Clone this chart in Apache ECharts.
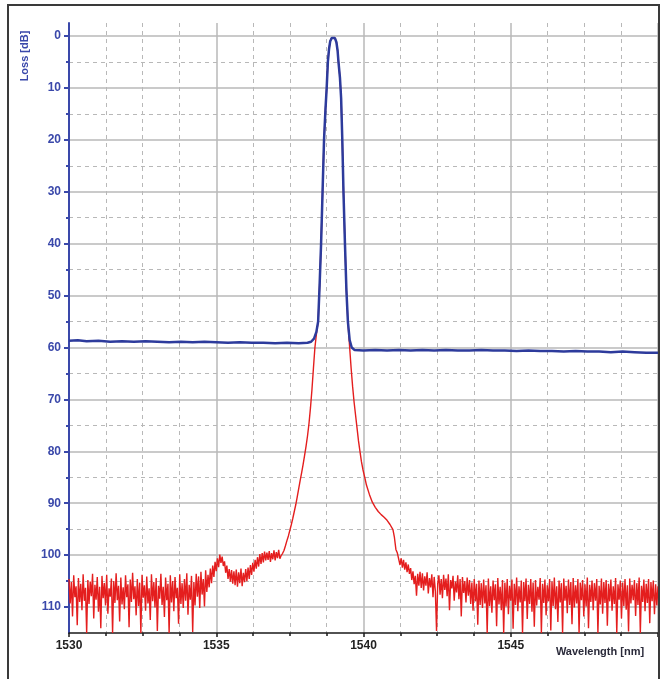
<!DOCTYPE html>
<html>
<head>
<meta charset="utf-8">
<script src="https://cdn.jsdelivr.net/npm/echarts@6/dist/echarts.min.js"></script>
<style>html,body{margin:0;padding:0;background:#fff}#c{width:665px;height:679px}</style>
</head>
<body>
<div id="c"></div>
<script>
// ---- axis definitions ----
const xMin = 1530, xMax = 1550, xStep = 5;
const xTickLabels = [1530, 1535, 1540, 1545];
const yTickLabels = [0, 10, 20, 30, 40, 50, 60, 70, 80, 90, 100, 110];
const yTop = -2.5, yBottom = 115;
const xName = 'Wavelength [nm]';
const yName = 'Loss [dB]';

// ---- red trace: noisy floor, left part (sampled every 0.04 nm from 1530.00) ----
const redLeftStart = 1530.0, redRightStart = 1541.2, redSampleStep = 0.04;
const redLeftNoise = [
104.6,109.3,105.2,111.8,103.9,108.1,106.0,113.5,104.4,109.0,
105.5,110.6,103.7,108.8,106.3,115.0,104.8,109.4,105.1,107.9,
103.6,112.2,105.7,108.6,104.2,110.9,106.1,114.1,104.0,108.3,
105.4,109.7,103.8,111.3,106.4,108.0,104.5,115.0,105.0,109.2,
103.5,108.7,105.9,112.8,104.3,109.5,106.2,110.4,103.9,108.1,
105.6,113.9,104.7,109.0,103.4,108.5,106.0,111.6,104.6,109.8,
105.3,115.0,103.8,108.2,105.8,110.7,104.1,109.3,106.4,112.5,
103.7,108.9,105.2,110.1,104.4,114.6,105.9,108.4,103.6,109.6,
106.1,111.9,104.3,108.7,105.5,115.0,103.9,109.1,105.0,110.8,
104.2,108.3,106.3,113.2,103.7,109.4,105.4,110.2,104.6,108.8,
103.5,111.5,105.7,108.6,104.0,114.8,105.2,109.7,103.6,108.0,
104.1,110.2,103.2,107.6,104.6,109.9,102.9,107.1,103.8,106.2,
102.6,105.4,102.0,104.2,101.3,103.1,100.6,102.3,99.9,101.5,
100.3,102.1,101.2,103.4,102.0,104.6,102.7,105.1,102.9,105.5,
103.1,105.8,102.8,106.1,103.3,105.4,102.6,106.0,103.4,105.2,
102.7,105.0,102.4,104.6,101.9,103.8,101.5,103.2,100.9,102.6,
100.4,102.2,99.8,101.7,99.6,101.4,99.3,101.0,99.5,100.9,
99.2,101.3,99.6,100.8,99.1,101.0,99.4,100.6,99.0,100.7
];

// ---- red trace: flanks of the filter peak [wavelength, loss] ----
const redLeftFlank = [
[1537.2,100.1],[1537.25,99.7],[1537.3,99.1],[1537.35,98.2],[1537.4,97.2],[1537.45,96.3],
[1537.5,95.2],[1537.55,94.1],[1537.6,92.9],[1537.65,91.6],[1537.7,90.3],[1537.75,88.8],
[1537.8,87.2],[1537.85,85.6],[1537.9,84.1],[1537.95,82.5],[1538.0,80.8],[1538.05,79.0],
[1538.1,77.0],[1538.15,74.6],[1538.2,71.6],[1538.25,68.1],[1538.3,64.0],[1538.35,60.0],[1538.41,57.0]
];
// shared core of the peak (both traces)
const peakCore = [
[1538.46,55],[1538.51,48],[1538.56,40],[1538.61,30],[1538.66,20],[1538.71,14],[1538.75,10],
[1538.79,5],[1538.83,2.5],[1538.87,1.0],[1538.92,0.4],[1538.98,0.2],[1539.03,0.4],[1539.08,1.2],
[1539.12,2.8],[1539.15,5],[1539.2,8],[1539.24,12],[1539.28,20],[1539.32,30],[1539.37,40],
[1539.42,49],[1539.47,55]
];
const redRightFlank = [
[1539.53,60],[1539.58,64],[1539.63,67.5],[1539.68,70.5],[1539.73,73],[1539.78,75.5],[1539.83,78],
[1539.88,80],[1539.93,82],[1539.98,83.5],[1540.05,85.2],[1540.1,86.5],[1540.2,88.3],[1540.3,89.8],
[1540.4,90.8],[1540.5,91.6],[1540.6,92.2],[1540.7,92.7],[1540.8,93.3],[1540.9,94.1],[1541.0,95.1],
[1541.05,96.6],[1541.1,98.9],[1541.15,99.6]
];

// ---- red trace: noisy floor, right part (every 0.04 nm from 1541.20) ----
const redRightNoise = [
99.8,101.9,100.6,102.4,100.9,102.8,101.4,103.3,101.8,103.6,
102.5,104.8,103.1,105.6,104.0,107.8,103.6,105.9,103.2,106.3,
103.5,106.8,104.1,105.9,103.3,107.4,104.4,106.2,103.7,108.1,
104.2,106.9,114.6,105.5,103.9,107.6,104.6,108.3,103.8,106.7,
104.5,107.9,103.7,110.6,104.8,106.4,104.0,108.8,105.1,107.2,
103.9,108.5,104.6,111.8,104.2,107.3,105.0,109.1,104.3,107.8,
104.8,109.4,105.3,110.7,104.6,108.9,105.5,113.4,104.9,109.6,
105.4,110.2,104.7,109.3,105.8,115.0,104.5,109.8,106.0,111.1,
104.9,108.7,105.6,113.7,104.4,109.5,106.1,110.6,104.8,115.0,
105.3,109.9,104.6,111.4,105.9,108.8,104.7,114.2,105.5,109.6,
104.3,110.8,106.0,109.1,104.9,115.0,105.2,108.9,104.5,112.3,
105.7,109.4,104.6,110.9,105.3,113.8,104.8,109.7,106.1,108.6,
104.4,115.0,105.5,109.2,104.7,111.6,105.8,108.9,104.6,114.5,
105.1,109.8,104.3,110.4,106.0,112.9,104.9,109.1,105.4,115.0,
104.5,108.8,105.9,111.2,104.7,109.6,105.2,113.3,104.4,110.1,
105.8,109.3,104.6,115.0,105.3,108.7,104.8,111.8,105.6,109.9,
104.3,114.1,105.7,109.0,104.9,110.6,105.4,108.8,104.6,115.0,
105.9,109.5,104.5,111.3,105.2,109.2,104.8,113.6,105.5,108.9,
104.7,110.7,106.0,109.4,104.4,115.0,105.6,108.6,104.9,112.2,
105.3,109.8,104.6,110.5,105.8,114.7,104.5,109.3,105.7,108.7,
104.8,111.7,105.4,109.6,104.3,115.0,105.9,109.0,104.7,110.8,
105.5,109.2,104.6,113.1,105.2,108.9,104.9,111.4,105.6,109.7,
106.0
];

// ---- blue trace plateaus [wavelength, loss] ----
const blueLeft = [
[1530.0,58.7],[1530.3,58.6],[1530.6,58.8],[1531.0,58.7],[1531.4,58.9],[1531.8,58.8],[1532.2,58.9],
[1532.6,58.8],[1533.0,58.9],[1533.4,59.0],[1533.8,58.9],[1534.2,59.0],[1534.6,58.9],[1535.0,59.0],
[1535.4,59.1],[1535.8,59.0],[1536.2,59.1],[1536.6,59.1],[1537.0,59.2],[1537.4,59.1],[1537.8,59.2],
[1538.1,59.1],[1538.22,58.9],[1538.32,58.3],[1538.4,57.0]
];
const blueRight = [
[1539.53,58.6],[1539.6,60.0],[1539.7,60.5],[1540.0,60.6],[1540.4,60.5],[1540.8,60.6],[1541.2,60.5],
[1541.6,60.6],[1542.0,60.5],[1542.4,60.6],[1542.8,60.5],[1543.2,60.6],[1543.6,60.6],[1544.0,60.5],
[1544.4,60.6],[1544.8,60.6],[1545.2,60.7],[1545.6,60.6],[1546.0,60.7],[1546.4,60.7],[1546.8,60.8],
[1547.2,60.7],[1547.6,60.8],[1548.0,60.8],[1548.4,60.9],[1548.8,60.8],[1549.2,60.9],[1549.6,61.0],
[1550.0,61.0]
];

// ---- build series data ----
const redData = []
  .concat(redLeftNoise.map((v, i) => [+(redLeftStart + i * redSampleStep).toFixed(2), v]))
  .concat(redLeftFlank, peakCore, redRightFlank)
  .concat(redRightNoise.map((v, i) => [+(redRightStart + i * redSampleStep).toFixed(2), v]));
const blueData = [].concat(blueLeft, peakCore, blueRight);

// ---- layout ----
const W = 665, H = 679;
const gLeft = 69, gRight = 7, gTop = 23, gBottom = 46;
const gH = H - gTop - gBottom;
const pxPerDb = gH / (yBottom - yTop);
const top1 = gTop + (0 - yTop) * pxPerDb;
const bottom1 = H - (top1 + 110 * pxPerDb);

const blueAxis = '#3a48aa';
const gridGray = '#b8b8b8';

const chart = echarts.init(document.getElementById('c'), null, {renderer: 'canvas'});
chart.setOption({
  animation: false,
  backgroundColor: '#fff',
  grid: [
    {left: gLeft, right: gRight, top: gTop, bottom: gBottom},
    {left: gLeft, right: gRight, top: top1, bottom: bottom1}
  ],
  xAxis: [
    {
      type: 'value', gridIndex: 0, min: xMin, max: xMax, interval: xStep,
      axisLine: {onZero: false, lineStyle: {color: '#1a1a1a', width: 1.5}},
      axisTick: {show: true, length: 4, lineStyle: {color: '#1a1a1a', width: 1.5}},
      minorTick: {show: true, splitNumber: 4, length: 3, lineStyle: {color: '#1a1a1a', width: 1.5}},
      axisLabel: {
        margin: 7, color: '#222', fontSize: 12, fontWeight: 'bold', fontFamily: 'Liberation Sans, Arial, sans-serif',
        formatter: v => xTickLabels.indexOf(v) >= 0 ? String(v) : ''
      },
      splitLine: {show: true, lineStyle: {color: gridGray, width: 1.5, type: 'solid'}},
      minorSplitLine: {show: true, lineStyle: {color: gridGray, width: 1, type: [4, 4]}}
    },
    {type: 'value', gridIndex: 1, min: xMin, max: xMax, show: false}
  ],
  yAxis: [
    {
      type: 'value', gridIndex: 0, min: yTop, max: yBottom, inverse: true,
      axisLine: {show: true, onZero: false, lineStyle: {color: blueAxis, width: 2}},
      axisTick: {show: false}, axisLabel: {show: false}, splitLine: {show: false}
    },
    {
      type: 'value', gridIndex: 1, min: 0, max: 110, interval: 10, inverse: true,
      axisLine: {show: false},
      axisTick: {show: true, length: 5, lineStyle: {color: blueAxis, width: 2}},
      minorTick: {show: true, splitNumber: 2, length: 3, lineStyle: {color: blueAxis, width: 2}},
      axisLabel: {
        margin: 8, color: blueAxis, fontSize: 12, fontWeight: 'bold', fontFamily: 'Liberation Sans, Arial, sans-serif',
        formatter: v => yTickLabels.indexOf(v) >= 0 ? String(v) : ''
      },
      splitLine: {show: true, lineStyle: {color: gridGray, width: 1.5, type: 'solid'}},
      minorSplitLine: {show: true, lineStyle: {color: gridGray, width: 1, type: [4, 4]}}
    }
  ],
  series: [
    {
      type: 'line', xAxisIndex: 0, yAxisIndex: 0, data: redData,
      showSymbol: false, symbol: 'none', clip: true,
      lineStyle: {color: '#e41e1e', width: 1.4}, z: 3
    },
    {
      type: 'line', xAxisIndex: 0, yAxisIndex: 0, data: blueData,
      showSymbol: false, symbol: 'none', clip: true,
      lineStyle: {color: '#2d3b9c', width: 2.5}, z: 4
    }
  ],
  graphic: [
    {type: 'rect', shape: {x: 8, y: 5, width: 651, height: 700}, style: {fill: 'none', stroke: '#3a3a3a', lineWidth: 2}, silent: true, z: 10},
    {type: 'text', x: 25, y: 56, rotation: Math.PI / 2,
      style: {text: yName, fill: blueAxis, font: 'bold 11px "Liberation Sans", Arial, sans-serif', align: 'center', verticalAlign: 'middle'}, z: 10},
    {type: 'text', x: 600, y: 652,
      style: {text: xName, fill: '#2a2a3a', font: 'bold 11px "Liberation Sans", Arial, sans-serif', align: 'center', verticalAlign: 'middle'}, z: 10}
  ]
});
</script>
</body>
</html>
